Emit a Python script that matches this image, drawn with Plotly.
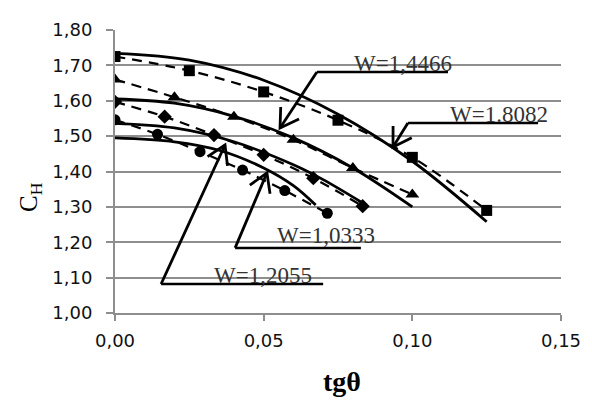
import math
import plotly.graph_objects as go

# ---------------- data ----------------
x_sq = [0, 0.025, 0.05, 0.075, 0.1, 0.125]
y_sq = [1.725, 1.685, 1.625, 1.545, 1.44, 1.29]
x_tri = [0, 0.02, 0.04, 0.06, 0.08, 0.1]
y_tri = [1.66, 1.61, 1.555, 1.49, 1.41, 1.335]
x_dia = [0, 0.0167, 0.0333, 0.05, 0.0667, 0.0833]
y_dia = [1.597, 1.555, 1.503, 1.447, 1.381, 1.302]
x_cir = [0, 0.0143, 0.0286, 0.0429, 0.0571, 0.0714]
y_cir = [1.546, 1.505, 1.456, 1.404, 1.346, 1.282]

x_c1 = [0, 0.025, 0.05, 0.075, 0.1, 0.125]
y_c1 = [1.734, 1.715, 1.658, 1.562, 1.429, 1.258]
x_c2 = [0, 0.02, 0.04, 0.06, 0.08, 0.1]
y_c2 = [1.605, 1.593, 1.556, 1.495, 1.41, 1.30]
x_c3 = [0, 0.02, 0.04, 0.06, 0.07, 0.0833]
y_c3 = [1.536, 1.523, 1.484, 1.419, 1.377, 1.311]
x_c4 = [0, 0.02, 0.035, 0.05, 0.06, 0.0675]
y_c4 = [1.495, 1.484, 1.46, 1.41, 1.36, 1.305]

labels = ["W=1,4466", "W=1.8082", "W=1,0333", "W=1,2055"]
label_tip = [(0.0555, 1.523), (0.0935, 1.469), (0.0511, 1.396), (0.037, 1.475)]
label_tail = [(0.0679, 1.681), (0.0985, 1.537), (0.0404, 1.184), (0.0155, 1.082)]
label_end = [0.112, 0.1423, 0.0827, 0.070]
label_text_x = [0.097, 0.1293, 0.0708, 0.0498]
label_base = [1.681, 1.537, 1.195, 1.082]

x_ticks = [0, 0.05, 0.10, 0.15]
y_ticks = [1.0, 1.1, 1.2, 1.3, 1.4, 1.5, 1.6, 1.7, 1.8]

# ---------------- geometry ----------------
W_, H_ = 592, 408
ML, MR, MT, MB = 115, 31, 30, 95
X0, X1 = 0, 0.15
Y0, Y1 = 1.0, 1.8
PW = W_ - ML - MR
PH = H_ - MT - MB


def to_px(x, y):
    return ML + (x - X0) / (X1 - X0) * PW, MT + (Y1 - y) / (Y1 - Y0) * PH


def to_data(px, py):
    return X0 + (px - ML) / PW * (X1 - X0), Y1 - (py - MT) / PH * (Y1 - Y0)


def px_to_paper(px, py):
    return (px - ML) / PW, (H_ - MB - py) / PH


fig = go.Figure()

exp_series = [
    (x_sq, y_sq, "square", 11),
    (x_tri, y_tri, "triangle-up", 12),
    (x_dia, y_dia, "diamond", 11),
    (x_cir, y_cir, "circle", 11),
]
for xs, ys, sym, sz in exp_series:
    fig.add_trace(go.Scatter(
        x=xs, y=ys, mode="lines+markers",
        line=dict(color="black", width=2.2, dash="10px,7px", shape="spline"),
        marker=dict(symbol=sym, size=sz, color="black"),
        showlegend=False, hoverinfo="skip"))

for xs, ys in [(x_c1, y_c1), (x_c2, y_c2), (x_c3, y_c3), (x_c4, y_c4)]:
    fig.add_trace(go.Scatter(
        x=xs, y=ys, mode="lines",
        line=dict(color="black", width=2.8, shape="spline"),
        showlegend=False, hoverinfo="skip"))

shapes = []
annotations = []
for lab, tip, tail, xend, tx, base in zip(labels, label_tip, label_tail,
                                          label_end, label_text_x, label_base):
    shapes.append(dict(type="line", xref="x", yref="y", x0=tail[0], y0=tail[1],
                       x1=xend, y1=tail[1], line=dict(color="black", width=2.5)))
    shapes.append(dict(type="line", xref="x", yref="y", x0=tail[0], y0=tail[1],
                       x1=tip[0], y1=tip[1], line=dict(color="black", width=2.8)))
    tpx, tpy = to_px(*tip)
    lpx, lpy = to_px(*tail)
    ang = math.atan2(lpy - tpy, lpx - tpx)
    pts = []
    for d in (-0.55, 0.55):
        pts.append(to_data(tpx + 21 * math.cos(ang + d), tpy + 21 * math.sin(ang + d)))
    path = "M {},{} L {},{} L {},{}".format(pts[0][0], pts[0][1], tip[0], tip[1],
                                            pts[1][0], pts[1][1])
    shapes.append(dict(type="path", xref="x", yref="y", path=path,
                       line=dict(color="black", width=2.8)))
    annotations.append(dict(x=tx, y=base, xref="x", yref="y", text=lab,
                            showarrow=False, xanchor="center", yanchor="bottom",
                            yshift=-6,
                            font=dict(family="Liberation Serif", size=23, color="#333")))

cx, cy = px_to_paper(30, 197)
annotations.append(dict(x=cx, y=cy, xref="paper", yref="paper", text="C<sub>H</sub>",
                        showarrow=False, textangle=-90, xanchor="center", yanchor="middle",
                        font=dict(family="Liberation Serif", size=25, color="black")))
tx_, ty_ = px_to_paper(342, 381)
annotations.append(dict(x=tx_, y=ty_, xref="paper", yref="paper", text="<b>tgθ</b>",
                        showarrow=False, xanchor="center", yanchor="middle",
                        font=dict(family="Liberation Serif", size=28, color="black")))

fig.update_layout(
    width=W_, height=H_,
    margin=dict(l=ML, r=MR, t=MT, b=MB),
    paper_bgcolor="white", plot_bgcolor="white",
    separators=",.",
    shapes=shapes, annotations=annotations,
    font=dict(family="DejaVu Sans", size=18, color="black"),
)
fig.update_xaxes(range=[X0, X1], tickvals=x_ticks, tickformat=".2f",
                 showgrid=False, zeroline=False,
                 showline=True, linecolor="#8e8e8e", linewidth=2,
                 ticks="outside", ticklen=6, tickwidth=2, tickcolor="#8e8e8e",
                 ticklabelstandoff=4,
                 tickfont=dict(family="DejaVu Sans", size=18, color="#111"))
fig.update_yaxes(range=[Y0, Y1], tickvals=y_ticks, tickformat=".2f",
                 showgrid=True, gridcolor="#8e8e8e", gridwidth=1.6, zeroline=False,
                 showline=True, linecolor="#8e8e8e", linewidth=2,
                 ticks="outside", ticklen=7, tickwidth=2, tickcolor="#8e8e8e",
                 ticklabelstandoff=10,
                 tickfont=dict(family="DejaVu Sans", size=18, color="#111"))

fig.write_html("out.html")
